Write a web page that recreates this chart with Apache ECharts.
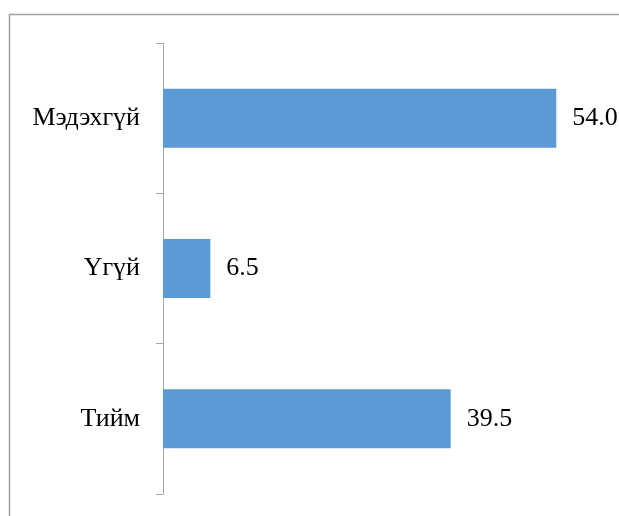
<!DOCTYPE html>
<html>
<head>
<meta charset="utf-8">
<script src="https://cdn.jsdelivr.net/npm/echarts@6/dist/echarts.min.js"></script>
<style>
  html, body { margin: 0; padding: 0; background: #fff; }
  #chart { width: 619px; height: 516px; }
</style>
</head>
<body>
<div id="chart"></div>
<script>
// categories from bottom to top
const categories = ['Тийм', 'Үгүй', 'Мэдэхгүй'];
const values = [39.5, 6.5, 54.0];

const chart = echarts.init(document.getElementById('chart'));

chart.setOption({
  animation: false,
  backgroundColor: '#fff',
  textStyle: { fontFamily: 'Liberation Serif, Times New Roman, serif' },
  graphic: [
    {
      type: 'rect',
      shape: { x: 9.5, y: 14.5, width: 700, height: 600 },
      style: { fill: 'none', stroke: '#a0a0a0', lineWidth: 1.5 }
    }
  ],
  grid: { left: 163, top: 43, bottom: 22, right: 19 },
  xAxis: {
    type: 'value',
    min: 0,
    max: 60,
    show: false
  },
  yAxis: {
    type: 'category',
    data: categories,
    axisLine: { lineStyle: { color: '#a6a6a6', width: 1 } },
    axisTick: { show: true, length: 7, lineStyle: { color: '#a6a6a6' } },
    axisLabel: {
      color: '#000',
      fontSize: 26,
      margin: 23,
      fontFamily: 'Liberation Serif'
    }
  },
  series: [
    {
      type: 'bar',
      data: values,
      barWidth: 59,
      itemStyle: { color: '#5b9bd5' },
      label: {
        show: true,
        position: 'right',
        distance: 16,
        color: '#000',
        fontSize: 26,
        fontFamily: 'Liberation Serif',
        formatter: p => p.value.toFixed(1)
      }
    }
  ]
});
</script>
</body>
</html>
